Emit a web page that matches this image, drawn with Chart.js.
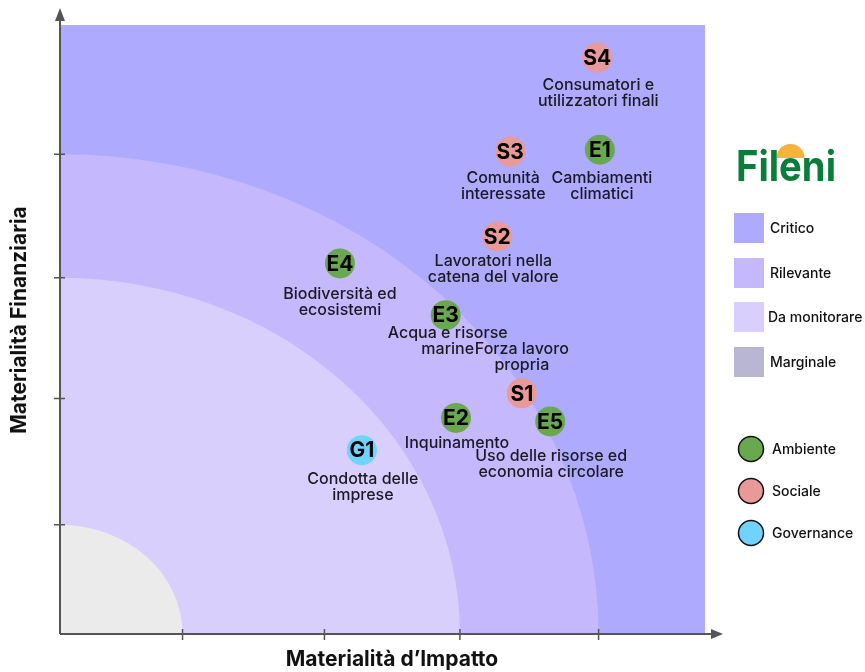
<!DOCTYPE html>
<html lang="it">
<head>
<meta charset="utf-8">
<title>Matrice di doppia materialità</title>
<script src="https://cdn.jsdelivr.net/npm/chart.js@4.4.1/dist/chart.umd.min.js"></script>
<style>
    html, body { margin: 0; padding: 0; background: #fff; }
    #wrap { width: 865px; height: 672px; }
</style>
</head>
<body>
<div id="wrap"><canvas id="matrix" width="865" height="672"></canvas></div>
<script>
// Matrice di doppia materialità
const codes = ['S4', 'S3', 'E1', 'S2', 'E4', 'E3', 'S1', 'E2', 'E5', 'G1'];
const topics = [
    'Consumatori e\nutilizzatori finali',
    'Comunità\ninteressate',
    'Cambiamenti\nclimatici',
    'Lavoratori nella\ncatena del valore',
    'Biodiversità ed\necosistemi',
    'Acqua e risorse\nmarine',
    'Forza lavoro\npropria',
    'Inquinamento',
    'Uso delle risorse ed\neconomia circolare',
    'Condotta delle\nimprese'
];
const impact    = [8.33, 6.98, 8.37, 6.78, 4.34, 5.98, 7.16, 6.14, 7.60, 4.68];
const financial = [10.03, 8.40, 8.43, 6.92, 6.45, 5.55, 4.19, 3.76, 3.70, 3.20];
const pillars = ['Sociale', 'Sociale', 'Ambiente', 'Sociale', 'Ambiente', 'Ambiente', 'Sociale', 'Ambiente', 'Ambiente', 'Governance'];

const pillarNames = ['Ambiente', 'Sociale', 'Governance'];
const zoneNames = ['Critico', 'Rilevante', 'Da monitorare', 'Marginale'];
const zoneRadii = [8.35, 6.2, 1.9];   // confini: Rilevante, Da monitorare, Marginale
const axisTicks = [1.9, 4.1, 6.2, 8.35];
const xTitle = 'Materialità d\u2019Impatto';
const yTitle = 'Materialità Finanziaria';

// Stile
const PILLAR_COLORS = { Ambiente: '#6aa84f', Sociale: '#ea9999', Governance: '#6fd3fe' };
const ZONE_COLORS = ['#aeaafe', '#c6b8fc', '#d9cffd', '#ebebeb'];
const ZONE_SWATCH = ['#aeaafe', '#c6b8fc', '#d9cffd', '#b8b6d2'];
const AXIS_COLOR = '#555';
const FONT = 'Inter, "Noto Sans", sans-serif';
// spostamenti etichette rispetto al punto [dx, dy] (px)
const labelShift = {
    S4: [1, 27], S3: [-7, 27], E1: [2, 29], S2: [-4, 25], E4: [0, 31],
    E3: [2, 18], S1: [0, -44], E2: [1, 25], E5: [1, 35], G1: [1, 29]
};

const datasets = pillarNames.map(p => ({
    label: p,
    data: codes.map((c, i) => ({ x: impact[i], y: financial[i], i }))
               .filter(d => pillars[d.i] === p),
    backgroundColor: PILLAR_COLORS[p],
    borderWidth: 0,
    pointRadius: 15,
    pointHoverRadius: 15
}));

const matrixPlugin = {
    id: 'matrix',
    beforeDatasetsDraw(chart) {
        const { ctx, chartArea: a, scales: { x, y } } = chart;
        const x0 = x.getPixelForValue(0), y0 = y.getPixelForValue(0);

        // zone
        ctx.save();
        ctx.beginPath();
        ctx.rect(a.left, a.top, a.right - a.left, a.bottom - a.top);
        ctx.clip();
        ctx.fillStyle = ZONE_COLORS[0];
        ctx.fillRect(a.left, a.top, a.right - a.left, a.bottom - a.top);
        zoneRadii.forEach((r, k) => {
            const rx = x.getPixelForValue(r) - x0;
            const ry = y0 - y.getPixelForValue(r);
            ctx.beginPath();
            ctx.moveTo(x0, y0);
            ctx.ellipse(x0, y0, rx, ry, 0, -Math.PI / 2, 0);
            ctx.closePath();
            ctx.fillStyle = ZONE_COLORS[k + 1];
            ctx.fill();
        });
        ctx.restore();

        // assi con frecce
        ctx.save();
        ctx.strokeStyle = AXIS_COLOR;
        ctx.fillStyle = AXIS_COLOR;
        ctx.lineWidth = 2;
        ctx.beginPath();
        ctx.moveTo(x0, y0);
        ctx.lineTo(a.right + 10, y0);
        ctx.moveTo(x0, y0);
        ctx.lineTo(x0, a.top - 6);
        ctx.stroke();
        ctx.beginPath();
        ctx.moveTo(a.right + 18, y0);
        ctx.lineTo(a.right + 6, y0 - 5);
        ctx.lineTo(a.right + 6, y0 + 5);
        ctx.closePath();
        ctx.fill();
        ctx.beginPath();
        ctx.moveTo(x0, a.top - 17);
        ctx.lineTo(x0 - 5, a.top - 4);
        ctx.lineTo(x0 + 5, a.top - 4);
        ctx.closePath();
        ctx.fill();
        ctx.lineWidth = 1.5;
        ctx.beginPath();
        axisTicks.forEach(t => {
            const px = x.getPixelForValue(t);
            ctx.moveTo(px, y0 - 5);
            ctx.lineTo(px, y0 + 6);
            const py = y.getPixelForValue(t);
            ctx.moveTo(x0 - 6, py);
            ctx.lineTo(x0 + 5, py);
        });
        ctx.stroke();

        // titoli assi
        ctx.fillStyle = '#111';
        ctx.font = 'bold 21px ' + FONT;
        ctx.textAlign = 'center';
        ctx.textBaseline = 'middle';
        ctx.fillText(xTitle, 392, 660);
        ctx.translate(20, 320);
        ctx.rotate(-Math.PI / 2);
        ctx.fillText(yTitle, 0, 0);
        ctx.restore();
    },
    afterDatasetsDraw(chart) {
        const { ctx, scales: { x, y } } = chart;
        ctx.save();
        ctx.textAlign = 'center';
        ctx.textBaseline = 'middle';
        codes.forEach((c, i) => {
            const px = x.getPixelForValue(impact[i]);
            const py = y.getPixelForValue(financial[i]);
            ctx.fillStyle = '#000';
            ctx.font = 'bold 21px ' + FONT;
            ctx.fillText(c, px, py + 1);
            ctx.fillStyle = '#1a1a24';
            ctx.font = '500 16px ' + FONT;
            const [dx, dy] = labelShift[c] || [0, 27];
            topics[i].split('\n').forEach((line, l) => {
                ctx.fillText(line, px + dx, py + dy + l * 16);
            });
        });

        // logo
        ctx.font = 'bold 42px ' + FONT;
        ctx.textAlign = 'left';
        ctx.textBaseline = 'alphabetic';
        const w = ctx.measureText('Fileni').width;
        const sx = 100 / w;
        const eMid = 736 + (ctx.measureText('Fil').width + ctx.measureText('e').width / 2) * sx;
        ctx.fillStyle = '#f5b33b';
        ctx.beginPath();
        ctx.ellipse(eMid, 158, 14, 14, 0, Math.PI, 0);
        ctx.fill();
        ctx.save();
        ctx.translate(736, 181);
        ctx.scale(sx, 1);
        ctx.fillStyle = '#0b7d3b';
        ctx.fillText('Fileni', 0, 0);
        ctx.restore();

        // legenda zone
        ctx.textBaseline = 'middle';
        ctx.font = '500 14px ' + FONT;
        const zoneTops = [213, 258, 302, 347];
        zoneNames.forEach((n, k) => {
            ctx.fillStyle = ZONE_SWATCH[k];
            ctx.fillRect(734, zoneTops[k], 30, 30);
            ctx.fillStyle = '#111';
            ctx.fillText(n, k === 2 ? 768 : 770, zoneTops[k] + 16);
        });

        // legenda pilastri
        const rows = [449, 491, 533];
        pillarNames.forEach((p, k) => {
            ctx.beginPath();
            ctx.arc(751, rows[k], 12.5, 0, Math.PI * 2);
            ctx.fillStyle = PILLAR_COLORS[p];
            ctx.fill();
            ctx.lineWidth = 1.5;
            ctx.strokeStyle = '#111';
            ctx.stroke();
            ctx.fillStyle = '#111';
            ctx.fillText(p, 772, rows[k] + 1);
        });
        ctx.restore();
    }
};

new Chart(document.getElementById('matrix'), {
    type: 'scatter',
    data: { datasets },
    options: {
        responsive: false,
        animation: false,
        layout: { autoPadding: false, padding: { left: 60, top: 25, right: 160, bottom: 38 } },
        scales: {
            x: { type: 'linear', min: 0, max: 10, display: false },
            y: { type: 'linear', min: 0, max: 10.6, display: false }
        },
        plugins: {
            legend: { display: false },
            tooltip: { enabled: false }
        }
    },
    plugins: [matrixPlugin]
});
</script>
</body>
</html>
